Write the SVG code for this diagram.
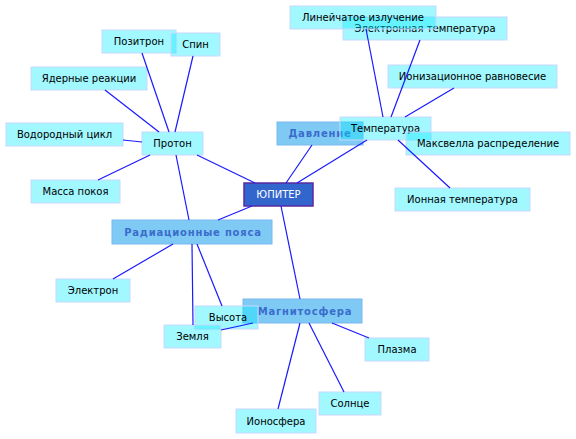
<svg xmlns="http://www.w3.org/2000/svg" width="576" height="439" viewBox="0 0 576 439">
<style>
.n rect{fill:rgb(0,236,255);fill-opacity:0.37;stroke:#c8d8ff;stroke-width:1}
.n text{font-family:"DejaVu Sans",sans-serif;font-size:10px;fill:#000;text-anchor:middle}
.h rect{fill:rgb(0,150,235);fill-opacity:0.5;stroke:#7ab8ee;stroke-width:1}
.h text{font-family:"DejaVu Sans",sans-serif;font-size:10px;font-weight:bold;fill:#3a6ccc;text-anchor:middle;letter-spacing:0.8px}
.r rect{fill:#3366cc;stroke:#5a2aa0;stroke-width:1.5}
.r text{font-family:"DejaVu Sans",sans-serif;font-size:10px;fill:#fff;text-anchor:middle}
#connectors line{stroke:#1a1aff;stroke-width:1.2}
</style>
<rect width="576" height="439" fill="#fff"/>
<g id="n-elektronnaya" class="n"><rect x="343" y="17" width="164" height="23"/><text x="425" y="32">Электронная температура</text></g>
<g id="n-lineychatoe" class="n"><rect x="290" y="6" width="146" height="23"/><text x="363" y="21">Линейчатое излучение</text></g>
<g id="n-pozitron" class="n"><rect x="102" y="30" width="74" height="23"/><text x="139" y="45">Позитрон</text></g>
<g id="n-spin" class="n"><rect x="171" y="33" width="49" height="23"/><text x="195.5" y="48">Спин</text></g>
<g id="n-yadernye" class="n"><rect x="31" y="67" width="116" height="23"/><text x="89" y="82">Ядерные реакции</text></g>
<g id="n-ionizats" class="n"><rect x="388" y="65" width="169" height="23"/><text x="472.5" y="80">Ионизационное равновесие</text></g>
<g id="n-vodorod" class="n"><rect x="6" y="123" width="117" height="23"/><text x="64.5" y="138">Водородный цикл</text></g>
<g id="n-proton" class="n"><rect x="142" y="132" width="61" height="23"/><text x="172.5" y="147">Протон</text></g>
<g id="n-davlenie" class="h"><rect x="277" y="122" width="86" height="23"/><text x="320" y="137">Давление</text></g>
<g id="n-temperatura" class="n"><rect x="340" y="117" width="91" height="23"/><text x="385.5" y="132">Температура</text></g>
<g id="n-maxwell" class="n"><rect x="406" y="132" width="164" height="23"/><text x="488" y="147">Максвелла распределение</text></g>
<g id="n-massa" class="n"><rect x="31" y="180" width="89" height="23"/><text x="75.5" y="195">Масса покоя</text></g>
<g id="n-jupiter" class="r"><rect x="244" y="183" width="69" height="23"/><text x="278.5" y="198">ЮПИТЕР</text></g>
<g id="n-ionnaya" class="n"><rect x="395" y="188" width="135" height="23"/><text x="462.5" y="203">Ионная температура</text></g>
<g id="n-radiats" class="h"><rect x="112" y="220" width="160" height="24"/><text x="193" y="236">Радиационные пояса</text></g>
<g id="n-elektron" class="n"><rect x="56" y="279" width="74" height="23"/><text x="93" y="294">Электрон</text></g>
<g id="n-magnit" class="h"><rect x="243" y="299" width="119" height="24"/><text x="305" y="315">Магнитосфера</text></g>
<g id="n-vysota" class="n"><rect x="195" y="306" width="63" height="23"/><text x="228" y="321">Высота</text></g>
<g id="n-zemlya" class="n"><rect x="164" y="325" width="57" height="23"/><text x="192.5" y="340">Земля</text></g>
<g id="n-plazma" class="n"><rect x="365" y="338" width="64" height="23"/><text x="397" y="353">Плазма</text></g>
<g id="n-solntse" class="n"><rect x="319" y="392" width="62" height="23"/><text x="350" y="407">Солнце</text></g>
<g id="n-ionosfera" class="n"><rect x="236" y="409" width="80" height="24"/><text x="276" y="425">Ионосфера</text></g>
<g id="connectors">
<line x1="169" y1="132" x2="142" y2="53"/>
<line x1="175" y1="132" x2="193" y2="56"/>
<line x1="159" y1="132" x2="105" y2="90"/>
<line x1="142" y1="142" x2="123" y2="140"/>
<line x1="150" y1="155" x2="98" y2="180"/>
<line x1="197" y1="155" x2="255" y2="183"/>
<line x1="176" y1="155" x2="189" y2="220"/>
<line x1="252" y1="206" x2="218" y2="220"/>
<line x1="286" y1="183" x2="312" y2="145"/>
<line x1="297" y1="183" x2="367" y2="140"/>
<line x1="281" y1="206" x2="300" y2="299"/>
<line x1="383" y1="117" x2="366" y2="29"/>
<line x1="391" y1="117" x2="420" y2="40"/>
<line x1="405" y1="117" x2="454" y2="88"/>
<line x1="398" y1="140" x2="450" y2="188"/>
<line x1="173" y1="244" x2="113" y2="279"/>
<line x1="192" y1="244" x2="193" y2="325"/>
<line x1="197" y1="244" x2="222" y2="306"/>
<line x1="221" y1="330" x2="253" y2="323"/>
<line x1="300" y1="323" x2="278" y2="409"/>
<line x1="309" y1="323" x2="344" y2="392"/>
<line x1="332" y1="323" x2="369" y2="338"/>
</g>
</svg>
